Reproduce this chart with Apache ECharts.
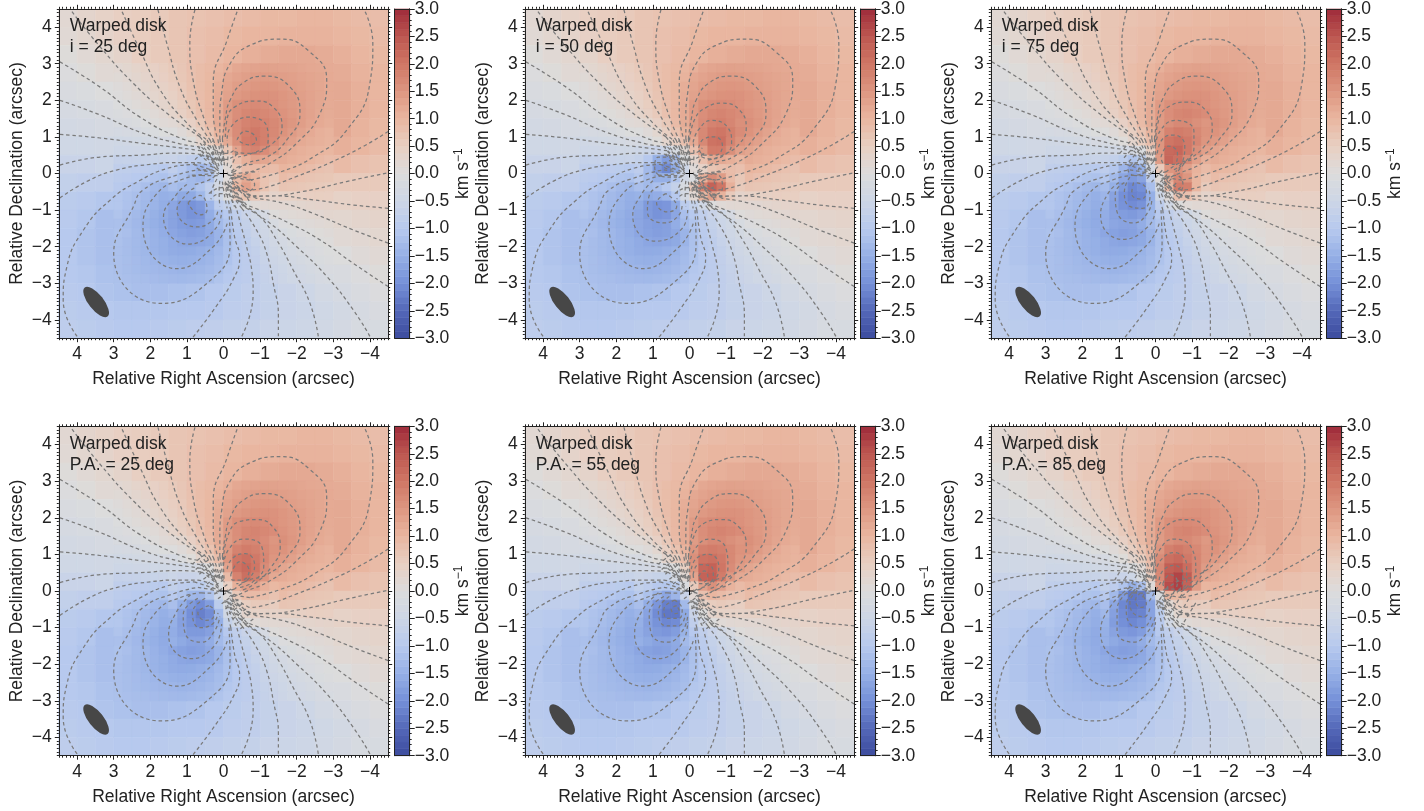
<!DOCTYPE html>
<html>
<head>
<meta charset="utf-8">
<title>Warped disk velocity maps</title>
<script src="https://cdn.jsdelivr.net/npm/echarts@6/dist/echarts.min.js"></script>
<style>html,body{margin:0;padding:0;background:#fff}#container{width:1424px;height:811px}</style>
</head>
<body>
<div id="container"></div>
<script>
// panel captions
var panelNotes = ['i = 25 deg', 'i = 50 deg', 'i = 75 deg', 'P.A. = 25 deg', 'P.A. = 55 deg', 'P.A. = 85 deg'];
var tickValues = [-4, -3, -2, -1, 0, 1, 2, 3, 4];
var cbarTicks = [-3, -2.5, -2, -1.5, -1, -0.5, 0, 0.5, 1, 1.5, 2, 2.5, 3];
var colormap = ['#3c4b9e', '#5468b8', '#7590d8', '#96b0e6', '#b7c9ee', '#cdd6e6', '#dcdcdc', '#e8cfc2', '#e9b6a0', '#dd9680', '#cf7665', '#bd5750', '#9e2a3a'];

// velocity, km/s. outer field is the same on all six panels
var fieldRa = [4.25, 3.75, 3.25, 2.75, 2.25, 1.75, 1.25, 0.75, 0.25, -0.25, -0.75, -1.25, -1.75, -2.25, -2.75, -3.25, -3.75, -4.25];
var fieldDec = fieldRa;
var baseField = [
  [.2,.3,.4,.5,.55,.6,.7,.75,.8,.85,.9,.95,.95,1,1,.95,.9,.85],
  [.15,.25,.35,.45,.55,.6,.7,.8,.85,.95,1,1,1.05,1.05,1.05,1,.95,.9],
  [.05,.15,.25,.35,.5,.6,.7,.8,.9,1,1.1,1.15,1.2,1.2,1.15,1.1,1,.95],
  [-.05,.05,.15,.25,.4,.5,.65,.8,.95,1.1,1.25,1.3,1.3,1.3,1.25,1.15,1.05,1],
  [-.15,-.1,0,.1,.25,.4,.55,.75,1,1.2,1.4,1.45,1.5,1.45,1.35,1.2,1.1,1],
  [-.25,-.2,-.15,-.05,.05,.2,.4,.65,1,1.3,1.55,1.65,1.65,1.55,1.4,1.2,1.1,1],
  [-.35,-.3,-.25,-.2,-.1,0,.2,.5,.9,1.4,1.75,1.85,1.8,1.55,1.35,1.2,1.05,.95],
  [-.45,-.45,-.4,-.35,-.3,-.2,-.1,.1,.6,1.3,1.85,1.9,1.7,1.45,1.25,1.1,1,.9],
  [-.6,-.6,-.55,-.55,-.55,-.5,-.5,-.5,-.3,.4,1,1.2,1.15,1.05,.95,.9,.8,.75],
  [-.75,-.8,-.8,-.9,-.95,-1,-1.1,-1.2,-.6,.3,.5,.5,.5,.5,.55,.6,.6,.6],
  [-.9,-.95,-1.05,-1.15,-1.3,-1.45,-1.7,-1.85,-1.3,-.6,-.1,.1,.2,.3,.35,.4,.45,.45],
  [-.95,-1.05,-1.2,-1.35,-1.55,-1.8,-1.85,-1.75,-1.4,-.9,-.5,-.2,0,.1,.2,.25,.3,.35],
  [-1,-1.1,-1.2,-1.4,-1.55,-1.65,-1.65,-1.55,-1.3,-1,-.65,-.4,-.2,-.05,.05,.15,.2,.25],
  [-1,-1.1,-1.2,-1.35,-1.45,-1.5,-1.45,-1.4,-1.2,-1,-.75,-.55,-.4,-.25,-.1,0,.1,.15],
  [-1,-1.05,-1.15,-1.25,-1.3,-1.3,-1.3,-1.25,-1.1,-.95,-.8,-.65,-.5,-.4,-.25,-.15,-.05,.05],
  [-.95,-1,-1.1,-1.15,-1.2,-1.2,-1.15,-1.1,-1,-.9,-.8,-.7,-.6,-.5,-.35,-.25,-.15,-.05],
  [-.9,-.95,-1,-1.05,-1.05,-1.05,-1,-1,-.95,-.85,-.8,-.7,-.6,-.55,-.45,-.35,-.25,-.15],
  [-.85,-.9,-.95,-1,-1,-.95,-.9,-.85,-.8,-.75,-.7,-.6,-.55,-.5,-.4,-.3,-.2,-.2]
];

// ring between 1.5 and 3 arcsec at finer steps, hole is filled by the per panel core
var _ = null;
var midRa = [2.875,2.625,2.375,2.125,1.875,1.625,1.375,1.125,.875,.625,.375,.125,-.125,-.375,-.625,-.875,-1.125,-1.375,-1.625,-1.875,-2.125,-2.375,-2.625,-2.875];
var midDec = midRa;
var midField = [
  [.2,.25,.32,.38,.45,.53,.6,.68,.8,.87,.93,1,1.1,1.22,1.27,1.3,1.33,1.32,1.3,1.28,1.25,1.22,1.2,1.17],
  [.13,.2,.27,.33,.41,.49,.57,.66,.78,.87,.95,1.05,1.22,1.3,1.36,1.4,1.42,1.4,1.37,1.34,1.3,1.27,1.23,1.18],
  [.06,.12,.2,.27,.35,.43,.52,.62,.76,.87,.97,1.13,1.27,1.38,1.44,1.48,1.5,1.48,1.44,1.38,1.33,1.28,1.23,1.18],
  [.02,.08,.14,.2,.28,.36,.47,.58,.72,.85,.97,1.15,1.32,1.45,1.52,1.57,1.58,1.56,1.5,1.44,1.36,1.3,1.24,1.18],
  [-.03,.02,.08,.14,.2,.3,.4,.53,.67,.83,.96,1.16,1.42,1.6,1.65,1.68,1.65,1.58,1.5,1.44,1.37,1.3,1.24,1.17],
  [-.1,-.05,0,.05,.12,.2,.32,.47,.6,.78,.94,1.17,1.42,1.62,1.74,1.78,1.72,1.65,1.54,1.46,1.37,1.3,1.2,1.15],
  [-.17,-.13,-.09,-.03,.03,.12,_,_,_,_,_,_,_,_,_,_,_,_,1.6,1.48,1.37,1.27,1.18,1.12],
  [-.28,-.25,-.22,-.17,-.1,-.02,_,_,_,_,_,_,_,_,_,_,_,_,1.55,1.42,1.3,1.18,1.1,1.05],
  [-.42,-.39,-.36,-.32,-.28,-.23,_,_,_,_,_,_,_,_,_,_,_,_,1.43,1.33,1.18,1.13,1.08,1.03],
  [-.5,-.49,-.47,-.46,-.44,-.42,_,_,_,_,_,_,_,_,_,_,_,_,1.25,1.15,1.1,1.05,1.02,.98],
  [-.68,-.66,-.65,-.64,-.63,-.62,_,_,_,_,_,_,_,_,_,_,_,_,1.15,1.1,1.05,1,.93,.85],
  [-.8,-.82,-.85,-.87,-.9,-.97,_,_,_,_,_,_,_,_,_,_,_,_,1.02,.97,.92,.85,.78,.74],
  [-.88,-.92,-.97,-1.03,-1.1,-1.15,_,_,_,_,_,_,_,_,_,_,_,_,.88,.8,.76,.72,.69,.67],
  [-.96,-1.02,-1.1,-1.2,-1.3,-1.37,_,_,_,_,_,_,_,_,_,_,_,_,.72,.69,.66,.63,.6,.57],
  [-1.04,-1.12,-1.2,-1.3,-1.4,-1.5,_,_,_,_,_,_,_,_,_,_,_,_,.42,.44,.46,.5,.51,.5],
  [-1.05,-1.14,-1.24,-1.33,-1.42,-1.53,_,_,_,_,_,_,_,_,_,_,_,_,.22,.22,.26,.3,.33,.35],
  [-1.1,-1.2,-1.3,-1.39,-1.48,-1.58,_,_,_,_,_,_,_,_,_,_,_,_,.1,.13,.16,.19,.22,.26],
  [-1.18,-1.25,-1.34,-1.42,-1.5,-1.58,_,_,_,_,_,_,_,_,_,_,_,_,-.05,.02,.06,.1,.14,.17],
  [-1.15,-1.2,-1.3,-1.37,-1.46,-1.54,-1.65,-1.72,-1.78,-1.74,-1.62,-1.42,-1.17,-.94,-.78,-.6,-.47,-.32,-.2,-.12,-.05,0,.05,.1],
  [-1.17,-1.24,-1.3,-1.37,-1.44,-1.5,-1.58,-1.65,-1.68,-1.65,-1.6,-1.42,-1.16,-.96,-.83,-.67,-.53,-.4,-.3,-.2,-.14,-.08,-.02,.03],
  [-1.18,-1.24,-1.3,-1.36,-1.44,-1.5,-1.56,-1.58,-1.57,-1.52,-1.45,-1.32,-1.15,-.97,-.85,-.72,-.58,-.47,-.36,-.28,-.2,-.14,-.08,-.02],
  [-1.18,-1.23,-1.28,-1.33,-1.38,-1.44,-1.48,-1.5,-1.48,-1.44,-1.38,-1.27,-1.13,-.97,-.87,-.76,-.62,-.52,-.43,-.35,-.27,-.2,-.12,-.06],
  [-1.18,-1.23,-1.27,-1.3,-1.34,-1.37,-1.4,-1.42,-1.4,-1.36,-1.3,-1.22,-1.05,-.95,-.87,-.78,-.66,-.57,-.49,-.41,-.33,-.27,-.2,-.13],
  [-1.17,-1.2,-1.22,-1.25,-1.28,-1.3,-1.32,-1.33,-1.3,-1.27,-1.22,-1.1,-1,-.93,-.87,-.8,-.68,-.6,-.53,-.45,-.38,-.32,-.25,-.2]
];

// central 3x3 arcsec of each panel at finer steps
var coreRa = [1.375, 1.125, 0.875, 0.625, 0.375, 0.125, -0.125, -0.375, -0.625, -0.875, -1.125, -1.375];
var coreDec = coreRa;
var coreI25 = [
  [.15,.25,.45,.65,.9,1.15,1.4,1.65,1.8,1.85,1.8,1.7],
  [0,.1,.25,.5,.75,1.05,1.35,1.65,1.85,1.95,1.85,1.7],
  [-.25,-.1,.05,.3,.55,.85,1.2,1.6,1.9,1.95,1.85,1.65],
  [-.45,-.4,-.35,-.2,0,.2,.7,1.3,1.7,1.8,1.65,1.45],
  [-.6,-.7,-.8,-.9,-.7,-.1,.3,.8,1.1,1.3,1.25,1.15],
  [-.8,-1,-1.2,-1.4,-1.2,-.4,.15,.6,.85,.9,.9,.85],
  [-1,-1.15,-1.3,-1.4,-1.2,-.5,.1,.9,1.2,1,.75,.65],
  [-1.2,-1.3,-1.3,-1.1,-.8,-.3,.2,1,1.35,1.1,.75,.55],
  [-1.45,-1.6,-1.6,-1.35,-.9,-.5,0,.5,.75,.65,.45,.35],
  [-1.65,-1.85,-1.95,-1.85,-1.4,-.85,-.7,-.4,0,.12,.18,.2],
  [-1.7,-1.85,-1.95,-1.9,-1.55,-1.2,-1,-.8,-.6,-.45,-.25,.03],
  [-1.7,-1.8,-1.85,-1.8,-1.6,-1.3,-1.1,-.88,-.7,-.55,-.42,-.2]
];
var coreI50 = [
  [.15,.25,.45,.65,.9,1.15,1.4,1.65,1.8,1.85,1.75,1.6],
  [0,.1,.25,.5,.75,1.05,1.35,1.7,1.95,2,1.85,1.65],
  [-.25,-.1,.05,.3,.5,.8,1.2,1.7,2.05,2.1,1.8,1.55],
  [-.5,-.55,-.6,-.5,-.2,.2,.8,1.4,1.9,1.9,1.6,1.35],
  [-.7,-1,-1.5,-1.8,-1.3,-.1,.3,.8,1.2,1.2,1.1,1],
  [-.85,-1.3,-1.85,-2.1,-1.6,-.5,.1,.4,.7,.8,.85,.8],
  [-1,-1.3,-1.5,-1.5,-1.1,-.4,-.1,1.1,1.65,1.4,.9,.65],
  [-1.2,-1.3,-1.2,-1,-.7,-.2,.6,1.8,2.3,2,1.1,.6],
  [-1.45,-1.6,-1.55,-1.4,-1,-.3,.2,1,1.35,1.05,.6,.35],
  [-1.6,-1.85,-1.95,-1.9,-1.6,-.9,-.7,-.4,0,.12,.18,.2],
  [-1.65,-1.85,-1.95,-1.9,-1.65,-1.2,-1,-.8,-.6,-.45,-.25,.03],
  [-1.65,-1.75,-1.8,-1.75,-1.55,-1.3,-1.1,-.88,-.7,-.55,-.42,-.2]
];
var coreI75 = [
  [.15,.25,.45,.65,.9,1.15,1.4,1.6,1.7,1.7,1.6,1.5],
  [0,.1,.25,.5,.75,1.05,1.45,1.8,1.9,1.85,1.7,1.55],
  [-.25,-.1,.05,.3,.55,.85,1.5,2,2.1,1.95,1.75,1.5],
  [-.45,-.4,-.35,-.3,-.1,.5,1.5,2.2,2.25,1.95,1.6,1.35],
  [-.65,-.75,-.9,-1.1,-.9,.2,1.4,2.25,2.1,1.7,1.35,1.1],
  [-.85,-1.05,-1.4,-1.75,-1.5,-.3,.6,1.5,1.6,1.35,1.05,.9],
  [-1.05,-1.3,-1.65,-1.85,-1.7,-.8,.1,1.2,1.75,1.5,1,.75],
  [-1.25,-1.5,-1.85,-2.1,-2,-1.2,-.2,1,1.9,1.85,1,.6],
  [-1.4,-1.7,-2,-2.15,-2.1,-1.5,-.5,.1,.8,.8,.55,.35],
  [-1.5,-1.75,-1.95,-2.05,-1.95,-1.45,-.85,-.4,0,.12,.18,.2],
  [-1.55,-1.7,-1.8,-1.85,-1.75,-1.35,-1,-.8,-.6,-.45,-.25,.03],
  [-1.55,-1.65,-1.7,-1.7,-1.55,-1.3,-1.1,-.88,-.7,-.55,-.42,-.2]
];
var corePa25 = [
  [.15,.25,.45,.65,.9,1.15,1.4,1.6,1.75,1.75,1.65,1.5],
  [0,.1,.25,.5,.75,1.05,1.45,1.8,1.9,1.85,1.7,1.55],
  [-.25,-.1,.05,.3,.55,.85,1.5,2,2.1,1.95,1.75,1.5],
  [-.4,-.4,-.35,-.25,0,.4,1.3,2.05,2.2,2,1.65,1.4],
  [-.55,-.6,-.6,-.55,-.35,.1,.9,1.8,2.1,1.85,1.5,1.2],
  [-.75,-.85,-.9,-.9,-.65,-.1,.5,1.1,1.4,1.35,1.1,.95],
  [-.95,-1.1,-1.35,-1.4,-1.1,-.5,.1,.65,.9,.9,.85,.75],
  [-1.2,-1.5,-1.85,-2.05,-1.8,-.9,-.2,.25,.5,.6,.6,.55],
  [-1.4,-1.7,-2,-2.2,-2.05,-1.3,-.4,0,.3,.4,.4,.4],
  [-1.5,-1.75,-1.95,-2.1,-1.95,-1.5,-.7,-.4,0,.12,.18,.2],
  [-1.55,-1.7,-1.85,-1.85,-1.75,-1.35,-1,-.8,-.6,-.45,-.25,.03],
  [-1.5,-1.6,-1.7,-1.7,-1.55,-1.3,-1.1,-.88,-.7,-.55,-.42,-.2]
];
var corePa55 = [
  [.15,.25,.45,.65,.9,1.15,1.4,1.6,1.7,1.7,1.6,1.5],
  [0,.1,.25,.5,.75,1.05,1.5,1.85,1.9,1.85,1.7,1.55],
  [-.25,-.1,.05,.3,.55,.85,1.6,2.05,2.1,1.95,1.7,1.5],
  [-.4,-.35,-.3,-.2,0,.5,1.5,2.25,2.3,2,1.65,1.4],
  [-.55,-.6,-.65,-.65,-.3,.2,1.3,2.3,2.35,1.9,1.45,1.2],
  [-.75,-.85,-1,-1.05,-.9,-.1,.6,1.35,1.6,1.35,1.05,.9],
  [-.95,-1.15,-1.4,-1.65,-1.4,-.6,.15,.8,1,.9,.8,.75],
  [-1.2,-1.55,-1.9,-2.2,-2.25,-1.3,-.2,.4,.55,.6,.55,.5],
  [-1.4,-1.7,-2.05,-2.3,-2.3,-1.6,-.6,0,.3,.4,.4,.4],
  [-1.5,-1.75,-1.95,-2.1,-2.05,-1.6,-.8,-.4,0,.12,.18,.2],
  [-1.55,-1.7,-1.85,-1.9,-1.8,-1.45,-1,-.8,-.6,-.45,-.25,.03],
  [-1.5,-1.6,-1.7,-1.7,-1.6,-1.3,-1.1,-.88,-.7,-.55,-.42,-.2]
];
var corePa85 = [
  [.15,.25,.45,.65,.9,1.15,1.4,1.6,1.7,1.7,1.6,1.45],
  [0,.1,.25,.5,.75,1.05,1.5,1.85,1.95,1.85,1.7,1.5],
  [-.25,-.1,.05,.3,.55,.9,1.65,2.1,2.2,1.95,1.75,1.5],
  [-.4,-.35,-.25,-.1,.15,.8,1.75,2.35,2.45,2.15,1.75,1.4],
  [-.55,-.6,-.6,-.5,-.1,.6,1.7,2.5,2.7,2.4,1.7,1.25],
  [-.75,-.85,-1.1,-1.5,-1.2,.1,1.5,2.6,2.75,2.3,1.4,1],
  [-.95,-1.3,-1.85,-2.3,-2.25,-1.3,-.1,1,.95,.9,.8,.75],
  [-1.2,-1.65,-2.1,-2.3,-2.25,-1.7,-.6,.2,.5,.6,.55,.55],
  [-1.35,-1.75,-2.05,-2.2,-2.15,-1.7,-.9,-.1,.25,.4,.4,.4],
  [-1.45,-1.8,-2,-2.1,-2,-1.7,-.95,-.4,0,.12,.18,.2],
  [-1.5,-1.7,-1.85,-1.9,-1.8,-1.45,-1,-.8,-.6,-.45,-.25,.03],
  [-1.5,-1.6,-1.7,-1.7,-1.55,-1.3,-1.1,-.88,-.7,-.55,-.42,-.2]
];
var panelCores = [coreI25, coreI50, coreI75, corePa25, corePa55, corePa85];

// iso-velocity lines, [RA, Dec] in arcsec
var outerContours = [
  [[4.47,3.05],[3.37,2.36],[2.28,1.54],[1.19,.97],[.64,.83]],
  [[4.47,2],[3.37,1.6],[2.28,1.13],[1.19,.81],[.6,.72]],
  [[4.47,1.07],[3.37,.97],[2.28,.83],[1.19,.7],[.6,.62]],
  [[4.47,.23],[3.37,.45],[2.28,.5],[1.19,.56],[.6,.52]],
  [[4.47,-.67],[3.7,-.2],[2.9,.1],[2,.25],[1.2,.3],[.7,.3]],
  [[4.14,4.42],[3.37,3.46],[2.46,2.46],[1.55,1.65],[.64,1]],
  [[2.77,4.42],[2.28,3.37],[1.73,2.28],[1,1.38],[.45,.92]],
  [[1.79,4.47],[1.55,3.56],[1.19,2.36],[.73,1.46],[.37,.92]],
  [[.78,4.47],[.92,3.56],[.83,2.55],[.55,1.55],[.28,.92]],
  [[-.37,4.42],[-.1,3.65],[.28,2.47],[.28,1.65],[.15,.92]],
  [[-3.87,4.42],[-4.08,3.56],[-4,2.47],[-3.37,1.19],[-2.45,.45],[-1.55,.04],[-.72,-.18]],
  [[.1,.95],[.1,1.5],[.05,2.2],[-.18,3],[-.72,3.5],[-1.55,3.67],[-2.36,3.32],[-2.82,2.55],[-2.64,1.65],[-2,.83],[-1.27,.28],[-.64,0],[-.3,-.15]],
  [[.03,.95],[-.05,1.5],[-.18,2],[-.53,2.47],[-1.13,2.66],[-1.82,2.36],[-2.09,1.65],[-1.73,.92],[-1.19,.45],[-.64,.28],[-.3,.05]],
  [[-4.5,1.15],[-3.82,.74],[-2.9,.29],[-2,-.08],[-1.09,-.4],[-.7,-.45]],
  [[-4.45,.01],[-3.36,-.22],[-2.18,-.49],[-1.09,-.62],[-.7,-.6]],
  [[-4.5,-.95],[-3.54,-.86],[-2.45,-.72],[-1.36,-.61],[-.63,-.65]],
  [[-4.5,-1.9],[-3.54,-1.54],[-2.45,-1.09],[-1.63,-.81],[-.9,-.68]],
  [[-4.5,-3.09],[-3.54,-2.45],[-2.63,-1.81],[-1.8,-1.36],[-1.09,-1.04],[-.63,-.86]],
  [[-4,-4.45],[-3.54,-3.72],[-2.82,-2.81],[-2,-2],[-1.27,-1.36],[-.63,-.95]],
  [[-2.59,-4.45],[-2.36,-3.54],[-1.9,-2.63],[-1.45,-1.81],[-1,-1.18],[-.6,-.9]],
  [[-1.5,-4.45],[-1.5,-3.9],[-1.36,-3],[-1.18,-2.18],[-.9,-1.54],[-.5,-.95]],
  [[-.5,-4.45],[-.81,-3.27],[-.77,-2.63],[-.63,-2],[-.5,-1.5],[-.35,-.95]],
  [[.83,-4.47],[.2,-3.63],[-.26,-2.9],[-.44,-2.3],[-.3,-1.72],[-.2,-1]],
  [[4,-4.45],[4.38,-3.46],[4.28,-2.55],[3.83,-1.55],[3.1,-.73],[2.3,-.2],[1.5,.15],[.8,.25]],
  [[-.15,-1],[-.18,-1.9],[.45,-3],[1.73,-3.55],[3,-2.19],[2.46,-.9],[2.2,-.45],[1.3,-.05],[.7,.1]],
  [[-.1,-1.37],[.28,-2],[1.27,-2.6],[2.2,-1.46],[1.82,-.55],[1.1,-.15],[.6,-.05]]
];

// where those lines run on into the crowded middle
var centreFan = [
  [[.64,.83],[.4,.55],[.2,.3]],[[.6,.72],[.35,.45],[.17,.22]],[[.6,.62],[.33,.38],[.15,.17]],[[.6,.52],[.3,.3],[.13,.12]],
  [[.7,.3],[.35,.2],[.12,.06]],[[.8,.25],[.4,.12],[.12,.02]],[[.7,.1],[.35,.04],[.12,-.02]],[[.6,-.05],[.3,-.06],[.1,-.06]],
  [[.64,1],[.42,.7],[.22,.38]],[[.45,.92],[.3,.62],[.16,.32]],[[.37,.92],[.23,.6],[.12,.3]],[[.28,.92],[.17,.6],[.08,.28]],
  [[.15,.92],[.1,.6],[.04,.26]],[[.1,.95],[.05,.6],[.01,.25]],[[.03,.95],[0,.6],[-.02,.24]],
  [[-.63,-.65],[-.38,-.42],[-.17,-.22]],[[-.9,-.68],[-.45,-.42],[-.19,-.2]],[[-.63,-.86],[-.38,-.55],[-.2,-.3]],[[-.63,-.95],[-.35,-.6],[-.17,-.32]],
  [[-.6,-.9],[-.3,-.6],[-.14,-.3]],[[-.5,-.95],[-.25,-.6],[-.11,-.28]],[[-.35,-.95],[-.18,-.6],[-.08,-.26]],[[-.2,-1],[-.1,-.6],[-.04,-.25]],
  [[-.7,-.6],[-.38,-.34],[-.16,-.14]],[[-.7,-.45],[-.37,-.25],[-.14,-.08]],[[-.72,-.18],[-.38,-.12],[-.13,-.03]],[[-.3,-.15],[-.2,-.1],[-.1,0]],[[-.3,.05],[-.2,.03],[-.11,.03]]
];

// inner loops and the strokes through the centre differ per panel
var swirlCore = [
  [[.12,.2],[.3,.55],[.55,.8]],[[.05,.22],[.15,.55],[.3,.9]],[[-.03,.22],[.02,.55],[.1,.95]],[[-.1,.2],[-.12,.5],[-.1,.9]],
  [[-.18,.15],[-.3,.4],[-.35,.6]],[[-.22,.06],[-.45,.2],[-.8,.25]],[[-.25,-.02],[-.5,.02],[-.95,.05]],[[-.2,-.12],[-.35,-.1],[-.5,-.1]],
  [[-.12,-.2],[-.3,-.5],[-.55,-.8]],[[-.05,-.22],[-.15,-.55],[-.3,-.9]],[[.03,-.22],[-.02,-.55],[-.1,-.95]],[[.1,-.2],[.12,-.5],[.1,-.9]],
  [[.18,-.15],[.3,-.4],[.35,-.6]],[[.22,-.06],[.45,-.2],[.8,-.3]],[[.25,.02],[.45,-.02],[.95,-.05]],[[.2,.12],[.4,.3],[.7,.55]],
  [[.55,.9],[.2,.62],[-.1,.55],[-.35,.7]],[[.7,.75],[.3,.4],[-.02,.38],[-.4,.55]],[[-.55,-.9],[-.2,-.62],[.1,-.55],[.35,-.7]],[[-.7,-.75],[-.3,-.4],[.02,-.38],[.4,-.55]]
];
var bandSteep = [
  [[.86,.73],[.46,1.03]],[[.76,.59],[.36,.89]],[[.66,.46],[.26,.76]],[[.55,.32],[.15,.62]],[[.45,.19],[.05,.49]],[[.35,.05],[-.05,.35]],[[.25,-.09],[-.15,.21]],
  [[.15,-.21],[-.25,.09]],[[.05,-.35],[-.35,-.05]],[[-.05,-.49],[-.45,-.19]],[[-.15,-.62],[-.55,-.32]],[[-.26,-.76],[-.66,-.46]],[[-.36,-.89],[-.76,-.59]],[[-.46,-1.03],[-.86,-.73]]
];
var bandMid = [
  [[.98,.55],[.64,.93]],[[.86,.43],[.52,.81]],[[.73,.32],[.39,.7]],[[.61,.21],[.27,.59]],[[.48,.09],[.14,.47]],[[.36,-.02],[.02,.36]],[[.23,-.14],[-.11,.24]],
  [[.11,-.24],[-.23,.14]],[[-.02,-.36],[-.36,.02]],[[-.14,-.47],[-.48,-.09]],[[-.27,-.59],[-.61,-.21]],[[-.39,-.7],[-.73,-.32]],[[-.52,-.81],[-.86,-.43]],[[-.64,-.93],[-.98,-.55]]
];
var bandFlat = [
  [[1.12,.29],[.78,.85]],[[.93,.18],[.59,.74]],[[.74,.06],[.4,.62]],[[.55,-.05],[.21,.51]],[[.36,-.17],[.02,.39]],[[.17,-.28],[-.17,.28]],
  [[-.02,-.39],[-.36,.17]],[[-.21,-.51],[-.55,.05]],[[-.4,-.62],[-.74,-.06]],[[-.59,-.74],[-.93,-.18]],[[-.78,-.85],[-1.12,-.29]]
];
var loopsI25 = [
  [[-.05,1],[-.1,1.5],[-.31,1.82],[-.86,1.98],[-1.35,1.82],[-1.6,1.27],[-1.35,.83],[-.8,.56],[-.4,.45]],
  [[-.1,.95],[-.18,1.24],[-.67,1.54],[-1.19,1.27],[-1.22,.92],[-1,.59],[-.6,.55],[-.3,.6]],
  [[-.37,.92],[-.59,1.16],[-.9,.92],[-.72,.78],[-.37,.92]],
  [[-.2,-.05],[-.55,-.1],[-.85,-.3],[-.6,-.5],[-.25,-.4]],
  [[.25,.35],[.5,.5],[.8,.3],[.6,.1],[.3,.1]],
  [[1,-.3],[1.27,-.55],[1.64,-1.19],[.97,-1.93],[.18,-1.46],[.05,-1]],
  [[.8,-.4],[1,-.55],[1.27,-1],[.73,-1.46],[.28,-1.27],[.15,-1]],
  [[.97,-.8],[.64,-.6],[.45,-1],[.64,-1.13],[.97,-.8]]
];
var loopsI50 = [
  [[0,.9],[-.15,1.5],[-.45,1.8],[-.9,1.92],[-1.35,1.75],[-1.55,1.25],[-1.35,.8],[-.9,.5],[-.45,.35]],
  [[-.1,.85],[-.25,1.2],[-.6,1.45],[-1.05,1.25],[-1.15,.85],[-.95,.5],[-.55,.4],[-.25,.5]],
  [[-.25,.7],[-.4,.95],[-.7,1],[-.9,.75],[-.7,.5],[-.4,.5],[-.25,.7]],
  [[-.15,-.1],[-.45,0],[-.85,-.1],[-.9,-.4],[-.5,-.6],[-.2,-.45],[-.15,-.1]],
  [[-.35,-.2],[-.55,-.15],[-.7,-.3],[-.5,-.42],[-.35,-.2]],
  [[.15,.1],[.4,.45],[.85,.45],[.95,.15],[.6,-.1],[.25,-.1],[.15,.1]],
  [[.35,.2],[.55,.35],[.7,.2],[.5,.12],[.35,.2]],
  [[1,-.2],[1.3,-.55],[1.55,-1.15],[.95,-1.85],[.2,-1.5],[.05,-1]],
  [[.85,-.35],[1.1,-.6],[1.15,-1.05],[.7,-1.35],[.3,-1.15],[.2,-.85]],
  [[.65,-.55],[.9,-.8],[.6,-1.05],[.35,-.9],[.45,-.7],[.65,-.55]]
];
var loopsI75 = [
  [[0,.85],[-.1,1.5],[-.4,1.85],[-.85,1.95],[-1.35,1.75],[-1.55,1.2],[-1.3,.7],[-.8,.3],[-.55,.05]],
  [[0,.75],[-.15,1.2],[-.55,1.45],[-1.05,1.15],[-1.05,.7],[-.8,.3],[-.6,.05]],
  [[-.05,.55],[-.2,.95],[-.5,1.05],[-.8,.75],[-.75,.35],[-.5,.1]],
  [[-.15,.45],[-.35,.75],[-.6,.55],[-.5,.25],[-.25,.25],[-.15,.45]],
  [[-.3,-.1],[-.55,-.05],[-.75,-.3],[-.6,-.55],[-.4,-.4],[-.3,-.1]],
  [[1,-.25],[1.3,-.55],[1.5,-1.15],[.9,-1.8],[.2,-1.45],[0,-1]],
  [[.85,-.25],[1.1,-.55],[1.05,-1.05],[.6,-1.35],[.2,-1.05],[.1,-.7]],
  [[.7,-.1],[.85,-.5],[.7,-.9],[.35,-.95],[.15,-.6],[.2,-.4]],
  [[.6,-.25],[.65,-.55],[.4,-.7],[.25,-.5],[.35,-.3],[.6,-.25]],
  [[.25,.05],[.5,.3],[.75,.1],[.55,-.05],[.25,.05]]
];
var loopsPa25 = [
  [[0,.85],[-.1,1.45],[-.45,1.9],[-.9,1.95],[-1.35,1.75],[-1.55,1.2],[-1.3,.65],[-.85,.2],[-.45,0]],
  [[0,.7],[-.15,1.15],[-.55,1.42],[-1.05,1.2],[-1.1,.7],[-.8,.25],[-.45,.1]],
  [[-.1,.6],[-.25,.9],[-.6,1.02],[-.85,.7],[-.65,.3],[-.35,.2]],
  [[-.2,.45],[-.45,.8],[-.7,.55],[-.5,.3],[-.25,.3],[-.2,.45]],
  [[.9,-.1],[1.3,-.6],[1.5,-1.2],[.9,-1.85],[.25,-1.5],[.05,-.9]],
  [[.7,-.2],[1.1,-.65],[1.05,-1.15],[.6,-1.4],[.25,-1.1],[.1,-.7]],
  [[.5,-.2],[.85,-.6],[.65,-1],[.3,-.9],[.15,-.6]],
  [[.4,-.4],[.7,-.6],[.5,-.8],[.3,-.75],[.25,-.55],[.4,-.4]]
];
var loopsPa55 = [
  [[.05,.75],[-.1,1.45],[-.4,1.85],[-.85,1.95],[-1.35,1.75],[-1.55,1.2],[-1.3,.6],[-.9,.15],[-.55,-.05]],
  [[0,.7],[-.15,1.15],[-.55,1.42],[-1,1.15],[-1.05,.65],[-.8,.2],[-.5,.05]],
  [[-.05,.6],[-.2,.9],[-.55,1],[-.8,.65],[-.65,.25],[-.35,.1]],
  [[-.1,.45],[-.25,.72],[-.55,.7],[-.65,.4],[-.45,.2],[-.2,.2],[-.1,.45]],
  [[-.25,.4],[-.4,.55],[-.5,.4],[-.4,.25],[-.25,.4]],
  [[.85,-.05],[1.3,-.55],[1.5,-1.2],[.9,-1.85],[.25,-1.5],[.05,-.85]],
  [[.7,-.15],[1.1,-.6],[1.05,-1.15],[.6,-1.4],[.2,-1.1],[.05,-.7]],
  [[.55,-.15],[.85,-.55],[.65,-.95],[.3,-.95],[.1,-.6]],
  [[.4,-.25],[.7,-.5],[.6,-.75],[.3,-.75],[.2,-.5],[.4,-.25]],
  [[.35,-.4],[.5,-.5],[.4,-.62],[.28,-.55],[.35,-.4]]
];
var loopsPa85 = [
  [[.1,.7],[-.05,1.4],[-.4,1.85],[-.85,1.95],[-1.35,1.75],[-1.55,1.15],[-1.3,.5],[-.95,.05],[-.7,-.15]],
  [[.05,.6],[-.1,1.1],[-.5,1.42],[-1,1.15],[-1.1,.55],[-.85,.1],[-.6,-.05]],
  [[0,.5],[-.15,.85],[-.5,1.05],[-.85,.7],[-.85,.25],[-.6,0]],
  [[-.1,.3],[-.2,.55],[-.5,.7],[-.75,.45],[-.7,.1],[-.5,0]],
  [[-.2,.2],[-.4,.45],[-.6,.25],[-.5,.05],[-.3,.05],[-.2,.2]],
  [[.7,.1],[1.25,-.45],[1.5,-1.15],[.9,-1.85],[.25,-1.5],[0,-.85]],
  [[.65,.05],[1.05,-.5],[1.05,-1.1],[.6,-1.4],[.2,-1.1],[0,-.7]],
  [[.55,.05],[.8,-.4],[.7,-.9],[.35,-1],[.1,-.65]],
  [[.5,0],[.7,-.3],[.55,-.65],[.3,-.7],[.15,-.45]],
  [[.4,-.05],[.55,-.25],[.4,-.45],[.25,-.35],[.4,-.05]]
];
var panelLines = [
  loopsI25.concat(swirlCore), loopsI50.concat(swirlCore), loopsI75.concat(bandMid),
  loopsPa25.concat(bandSteep), loopsPa55.concat(bandSteep), loopsPa85.concat(bandFlat)
];
var beamPos = [[3.48, -3.51]];
var starPos = [[0, 0]];

var panelX = [58.8, 524.8, 990.8], panelY = [8.8, 426.3], panelSize = 329.4;
var font = '"Liberation Sans", Arial, sans-serif', ink = '#222';

var grids = [], xAxes = [], yAxes = [], series = [], titles = [], cellSeries = [];

function minus(v) { return String(v).replace('-', '\u2212'); }

function tickRange(from, to, count) {
  var out = [];
  for (var i = 0; i <= count; i++) out.push(from + (to - from) * i / count);
  return out;
}
var minorTicks = tickRange(-4.5, 4.5, 90);
var cbarMinor = tickRange(-3, 3, 60);

function sideAxis(grid, pos, lo, hi, ticks, len, extra) {
  return Object.assign({
    type: 'value', gridIndex: grid, position: pos, min: lo, max: hi, z: 6,
    splitLine: { show: false },
    axisLine: { show: true, onZero: false, lineStyle: { color: ink, width: 1 } },
    axisTick: { show: len > 0, length: len, customValues: ticks, lineStyle: { color: ink, width: 1 } },
    axisLabel: { show: false }
  }, extra || {});
}

function labelled(name, gap, inverse, ticks, fmt) {
  return {
    inverse: inverse, name: name, nameLocation: 'middle', nameGap: gap,
    nameTextStyle: { fontFamily: font, fontSize: 17.5, color: ink },
    axisLabel: { show: true, customValues: ticks, formatter: fmt, fontFamily: font, fontSize: 17.5, color: ink, margin: 7 }
  };
}

function renderCell(params, api) {
  var a = api.coord([api.value(0), api.value(2)]);
  var b = api.coord([api.value(1), api.value(3)]);
  var color = api.visual('color');
  return {
    type: 'rect',
    shape: { x: Math.min(a[0], b[0]), y: Math.min(a[1], b[1]), width: Math.abs(a[0] - b[0]), height: Math.abs(a[1] - b[1]) },
    style: { fill: color, stroke: color, lineWidth: 0.6 }
  };
}

function cellsFrom(ra, dec, rows, half) {
  var out = [];
  rows.forEach(function (row, j) {
    row.forEach(function (v, i) {
      if (v !== null) out.push([ra[i] - half, ra[i] + half, dec[j] - half, dec[j] + half, v]);
    });
  });
  return out;
}

function withBreaks(lines) {
  var out = [];
  lines.forEach(function (line) { out = out.concat(line); out.push(['-', '-']); });
  return out;
}

for (var p = 0; p < 6; p++) {
  var panelLeft = panelX[p % 3], panelTop = panelY[p < 3 ? 0 : 1];

  // map panel
  var g = grids.length;
  grids.push({ left: panelLeft, top: panelTop, width: panelSize, height: panelSize });
  var xi = xAxes.length, yi = yAxes.length;
  xAxes.push(sideAxis(g, 'bottom', -4.5, 4.5, tickValues, 4, labelled('Relative Right Ascension (arcsec)', 32, true, tickValues, minus)));
  xAxes.push(sideAxis(g, 'bottom', -4.5, 4.5, minorTicks, 2, { inverse: true }));
  xAxes.push(sideAxis(g, 'top', -4.5, 4.5, tickValues, 4, { inverse: true }));
  xAxes.push(sideAxis(g, 'top', -4.5, 4.5, minorTicks, 2, { inverse: true }));
  yAxes.push(sideAxis(g, 'left', -4.5, 4.5, tickValues, 4, labelled('Relative Declination (arcsec)', 33, false, tickValues, minus)));
  yAxes.push(sideAxis(g, 'left', -4.5, 4.5, minorTicks, 2));
  yAxes.push(sideAxis(g, 'right', -4.5, 4.5, tickValues, 4));
  yAxes.push(sideAxis(g, 'right', -4.5, 4.5, minorTicks, 2));

  cellSeries.push(series.length);
  series.push({
    type: 'custom', xAxisIndex: xi, yAxisIndex: yi, coordinateSystem: 'cartesian2d', clip: true, z: 1,
    renderItem: renderCell, encode: { x: 0, y: 2 },
    data: cellsFrom(fieldRa, fieldDec, baseField, 0.25)
      .concat(cellsFrom(midRa, midDec, midField, 0.125))
      .concat(cellsFrom(coreRa, coreDec, panelCores[p], 0.125))
  });
  series.push({
    type: 'line', xAxisIndex: xi, yAxisIndex: yi, z: 3, symbol: 'none', smooth: true, silent: true,
    lineStyle: { color: '#7a7a7a', width: 1.25, type: [3.5, 2.8] },
    data: withBreaks(outerContours.concat(centreFan, panelLines[p]))
  });
  series.push({
    type: 'scatter', xAxisIndex: xi, yAxisIndex: yi, z: 4, silent: true, data: beamPos,
    symbol: 'path://M0 -1A1 1 0 1 1 0 1A1 1 0 1 1 0 -1Z', symbolSize: [15, 37], symbolRotate: 38,
    itemStyle: { color: '#474747', opacity: 1 }
  });
  series.push({
    type: 'scatter', xAxisIndex: xi, yAxisIndex: yi, z: 5, silent: true, data: starPos,
    symbol: 'path://M3.5 0h1v3.5H8v1H4.5V8h-1V4.5H0v-1h3.5z', symbolSize: 8,
    itemStyle: { color: '#000', opacity: 1 }
  });

  titles.push({
    text: 'Warped disk\n' + panelNotes[p], left: panelLeft + 6, top: panelTop + 2,
    textStyle: { fontFamily: font, fontSize: 17.5, fontWeight: 'normal', color: ink, lineHeight: 21 }
  });

  // colour bar
  var c = grids.length;
  grids.push({ left: panelLeft + panelSize + 6.5, top: panelTop, width: 15, height: panelSize });
  var cx = xAxes.length, cy = yAxes.length;
  xAxes.push(sideAxis(c, 'bottom', 0, 1, [], 0));
  xAxes.push(sideAxis(c, 'top', 0, 1, [], 0));
  yAxes.push(sideAxis(c, 'right', -3, 3, cbarTicks, 5, labelled('km s{sup|\u22121}', 35, false, cbarTicks, function (v) { return minus(v.toFixed(1)); })));
  yAxes[cy].nameTextStyle.rich = { sup: { fontFamily: font, fontSize: 12, color: ink, padding: [0, 0, 8, 0] } };
  yAxes[cy].nameRotate = 90;
  yAxes[cy].axisLabel.margin = 5;
  yAxes.push(sideAxis(c, 'right', -3, 3, cbarMinor, 2));
  yAxes.push(sideAxis(c, 'left', -3, 3, [], 0));

  var bands = [];
  for (var k = 0; k < 48; k++) {
    bands.push([0, 1, -3 + k * 0.125, -3 + (k + 1) * 0.125, -3 + (k + 0.5) * 0.125]);
  }
  cellSeries.push(series.length);
  series.push({
    type: 'custom', xAxisIndex: cx, yAxisIndex: cy, coordinateSystem: 'cartesian2d', z: 1,
    renderItem: renderCell, encode: { x: 0, y: 2 }, data: bands
  });
}

var myChart = echarts.init(document.getElementById('container'));
option = {
  animation: false,
  backgroundColor: '#fff',
  title: titles,
  grid: grids,
  xAxis: xAxes,
  yAxis: yAxes,
  visualMap: {
    type: 'continuous', show: false, min: -3, max: 3, dimension: 4,
    seriesIndex: cellSeries, inRange: { color: colormap }
  },
  series: series
};
myChart.setOption(option, true);
</script>
</body>
</html>
